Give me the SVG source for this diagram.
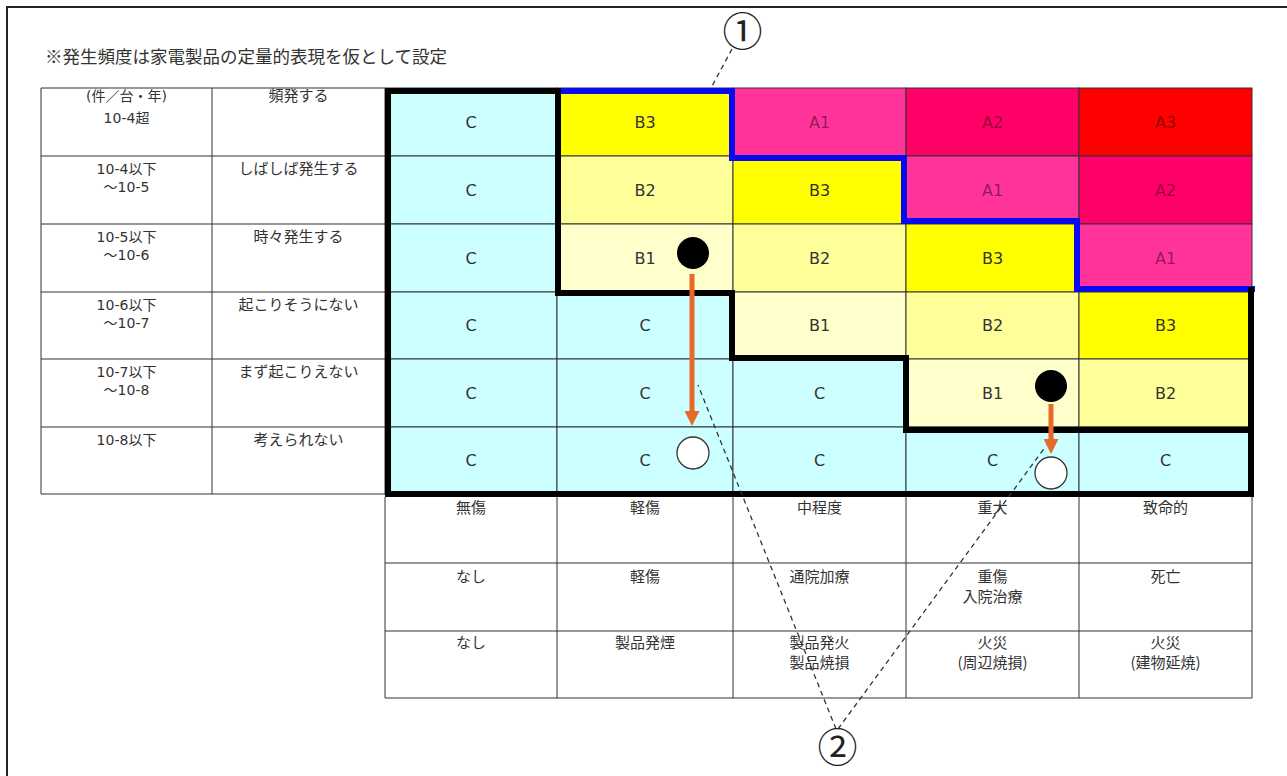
<svg xmlns="http://www.w3.org/2000/svg" width="1287" height="776" viewBox="0 0 1287 776">
<defs>
<style>
.frame{fill:none;stroke:#222;stroke-width:2}
.cell{stroke:#333;stroke-width:1}
.c{fill:#CCFFFF}.b1{fill:#FFFFCC}.b2{fill:#FFFF99}.b3{fill:#FFFF00}.a1{fill:#FF3399}.a2{fill:#FF0066}.a3{fill:#FF0000}
.lbl{font-family:"DejaVu Sans",Verdana,sans-serif;font-size:16px;fill:#333;text-anchor:middle}
.la{fill:#000;fill-opacity:.45}
.jp{font-family:"Noto Sans CJK JP","Noto Sans",sans-serif;font-size:15px;fill:#333;text-anchor:middle}
.num-t{font-family:"DejaVu Sans","Noto Sans CJK JP",sans-serif;font-size:14px;fill:#333;text-anchor:middle}
.note{font-family:"Noto Sans CJK JP",sans-serif;font-size:17.5px;fill:#333}
.grid{stroke:#333;stroke-width:1;fill:none}
.thick{fill:none;stroke:#000;stroke-width:6;stroke-linecap:square;stroke-linejoin:miter}
.blue{fill:none;stroke:#0A0AF0;stroke-width:6;stroke-linecap:square;stroke-linejoin:miter}
.dash{fill:none;stroke:#333;stroke-width:1.3;stroke-dasharray:5 4}
.arrow{fill:none;stroke:#E8692A;stroke-width:5}
.num{font-family:"Noto Sans CJK JP",sans-serif;font-size:40px;fill:#222;text-anchor:middle}
</style>
<marker id="ah" viewBox="0 0 10 10" refX="0" refY="5" markerUnits="userSpaceOnUse" markerWidth="15" markerHeight="15" orient="auto">
<path d="M0,0 L10,5 L0,10 z" fill="#E8692A"/>
</marker>
</defs>
<rect width="1287" height="776" fill="#fff"/>
<g id="frame"><path class="frame" d="M7,777 L7,7 L1290,7"/></g>
<g id="note"><text class="note" x="45" y="63">※発生頻度は家電製品の定量的表現を仮として設定</text></g>

<g id="frequency-table">
<path class="grid" d="M41,88 H385 M41,156 H385 M41,224 H385 M41,292 H385 M41,359 H385 M41,427 H385 M41,494 H385 M41,88 V494 M212,88 V494"/>
<text class="num-t" x="126.5" y="101">(件／台・年)</text>
<text class="num-t" x="126.5" y="123">10-4超</text>
<text class="jp" x="298.5" y="101">頻発する</text>
<text class="num-t" x="126.5" y="174">10-4以下</text>
<text class="num-t" x="126.5" y="192">～10-5</text>
<text class="jp" x="298.5" y="174">しばしば発生する</text>
<text class="num-t" x="126.5" y="242">10-5以下</text>
<text class="num-t" x="126.5" y="260">～10-6</text>
<text class="jp" x="298.5" y="242">時々発生する</text>
<text class="num-t" x="126.5" y="310">10-6以下</text>
<text class="num-t" x="126.5" y="328">～10-7</text>
<text class="jp" x="298.5" y="310">起こりそうにない</text>
<text class="num-t" x="126.5" y="377">10-7以下</text>
<text class="num-t" x="126.5" y="395">～10-8</text>
<text class="jp" x="298.5" y="377">まず起こりえない</text>
<text class="num-t" x="126.5" y="445">10-8以下</text>
<text class="jp" x="298.5" y="445">考えられない</text>
</g>

<g id="risk-matrix">
<g id="row0">
<rect class="cell c" x="385" y="88" width="172" height="68"/><text class="lbl" x="471" y="127.5">C</text>
<rect class="cell b3" x="557" y="88" width="176" height="68"/><text class="lbl" x="645" y="127.5">B3</text>
<rect class="cell a1" x="733" y="88" width="173" height="68"/><text class="lbl la" x="819.5" y="127.5">A1</text>
<rect class="cell a2" x="906" y="88" width="173" height="68"/><text class="lbl la" x="992.5" y="127.5">A2</text>
<rect class="cell a3" x="1079" y="88" width="173" height="68"/><text class="lbl la" x="1165.5" y="127.5">A3</text>
</g>
<g id="row1">
<rect class="cell c" x="385" y="156" width="172" height="68"/><text class="lbl" x="471" y="195.5">C</text>
<rect class="cell b2" x="557" y="156" width="176" height="68"/><text class="lbl" x="645" y="195.5">B2</text>
<rect class="cell b3" x="733" y="156" width="173" height="68"/><text class="lbl" x="819.5" y="195.5">B3</text>
<rect class="cell a1" x="906" y="156" width="173" height="68"/><text class="lbl la" x="992.5" y="195.5">A1</text>
<rect class="cell a2" x="1079" y="156" width="173" height="68"/><text class="lbl la" x="1165.5" y="195.5">A2</text>
</g>
<g id="row2">
<rect class="cell c" x="385" y="224" width="172" height="68"/><text class="lbl" x="471" y="263.5">C</text>
<rect class="cell b1" x="557" y="224" width="176" height="68"/><text class="lbl" x="645" y="263.5">B1</text>
<rect class="cell b2" x="733" y="224" width="173" height="68"/><text class="lbl" x="819.5" y="263.5">B2</text>
<rect class="cell b3" x="906" y="224" width="173" height="68"/><text class="lbl" x="992.5" y="263.5">B3</text>
<rect class="cell a1" x="1079" y="224" width="173" height="68"/><text class="lbl la" x="1165.5" y="263.5">A1</text>
</g>
<g id="row3">
<rect class="cell c" x="385" y="292" width="172" height="67"/><text class="lbl" x="471" y="331">C</text>
<rect class="cell c" x="557" y="292" width="176" height="67"/><text class="lbl" x="645" y="331">C</text>
<rect class="cell b1" x="733" y="292" width="173" height="67"/><text class="lbl" x="819.5" y="331">B1</text>
<rect class="cell b2" x="906" y="292" width="173" height="67"/><text class="lbl" x="992.5" y="331">B2</text>
<rect class="cell b3" x="1079" y="292" width="173" height="67"/><text class="lbl" x="1165.5" y="331">B3</text>
</g>
<g id="row4">
<rect class="cell c" x="385" y="359" width="172" height="68"/><text class="lbl" x="471" y="398.5">C</text>
<rect class="cell c" x="557" y="359" width="176" height="68"/><text class="lbl" x="645" y="398.5">C</text>
<rect class="cell c" x="733" y="359" width="173" height="68"/><text class="lbl" x="819.5" y="398.5">C</text>
<rect class="cell b1" x="906" y="359" width="173" height="68"/><text class="lbl" x="992.5" y="398.5">B1</text>
<rect class="cell b2" x="1079" y="359" width="173" height="68"/><text class="lbl" x="1165.5" y="398.5">B2</text>
</g>
<g id="row5">
<rect class="cell c" x="385" y="427" width="172" height="67"/><text class="lbl" x="471" y="466">C</text>
<rect class="cell c" x="557" y="427" width="176" height="67"/><text class="lbl" x="645" y="466">C</text>
<rect class="cell c" x="733" y="427" width="173" height="67"/><text class="lbl" x="819.5" y="466">C</text>
<rect class="cell c" x="906" y="427" width="173" height="67"/><text class="lbl" x="992.5" y="466">C</text>
<rect class="cell c" x="1079" y="427" width="173" height="67"/><text class="lbl" x="1165.5" y="466">C</text>
</g>
</g>

<g id="boundaries">
<path class="blue" d="M558,91 L732,91 L732,158 L904,158 L904,221 L1077,221 L1077,289 L1252,289"/>
<path class="thick" d="M558,91 L388,91 L388,494 L1251,494 L1251,290"/>
<path class="thick" d="M558,91 L558,293 L732,293 L732,358 L906,358 L906,430 L1251,430"/>
</g>

<g id="severity-table">
<path class="grid" d="M385,497 V698 M557,497 V698 M733,497 V698 M906,497 V698 M1079,497 V698 M1252,497 V698 M385,563 H1252 M385,631 H1252 M385,698 H1252"/>
<text class="jp" x="471" y="513">無傷</text>
<text class="jp" x="645" y="513">軽傷</text>
<text class="jp" x="819.5" y="513">中程度</text>
<text class="jp" x="992.5" y="513">重大</text>
<text class="jp" x="1165.5" y="513">致命的</text>
<text class="jp" x="471" y="582">なし</text>
<text class="jp" x="645" y="582">軽傷</text>
<text class="jp" x="819.5" y="582">通院加療</text>
<text class="jp" x="992.5" y="582">重傷</text>
<text class="jp" x="992.5" y="602">入院治療</text>
<text class="jp" x="1165.5" y="582">死亡</text>
<text class="jp" x="471" y="648">なし</text>
<text class="jp" x="645" y="648">製品発煙</text>
<text class="jp" x="819.5" y="648">製品発火</text>
<text class="jp" x="819.5" y="668">製品焼損</text>
<text class="jp" x="992.5" y="648">火災</text>
<text class="jp" x="992.5" y="668">(周辺焼損)</text>
<text class="jp" x="1165.5" y="648">火災</text>
<text class="jp" x="1165.5" y="668">(建物延焼)</text>
</g>

<g id="connectors">
<path class="dash" d="M732,49 L711,88"/>
<path class="dash" d="M836,729 L698,385"/>
<path class="dash" d="M838,729 L1046,446"/>
<path class="arrow" d="M692,274 L692,411" marker-end="url(#ah)"/>
<path class="arrow" d="M1051,404 L1051,439" marker-end="url(#ah)"/>
</g>

<g id="point-before-1"><circle cx="693" cy="253" r="16" fill="#000"/></g>
<g id="point-after-1"><circle cx="693" cy="453" r="16" fill="#fff" stroke="#333" stroke-width="1.3"/></g>
<g id="point-before-2"><circle cx="1051" cy="386" r="16" fill="#000"/></g>
<g id="point-after-2"><circle cx="1051" cy="473" r="16" fill="#fff" stroke="#333" stroke-width="1.3"/></g>

<g id="callout-1"><text class="num" x="742.5" y="46">①</text></g>
<g id="callout-2"><text class="num" x="837.5" y="762">②</text></g>
</svg>
